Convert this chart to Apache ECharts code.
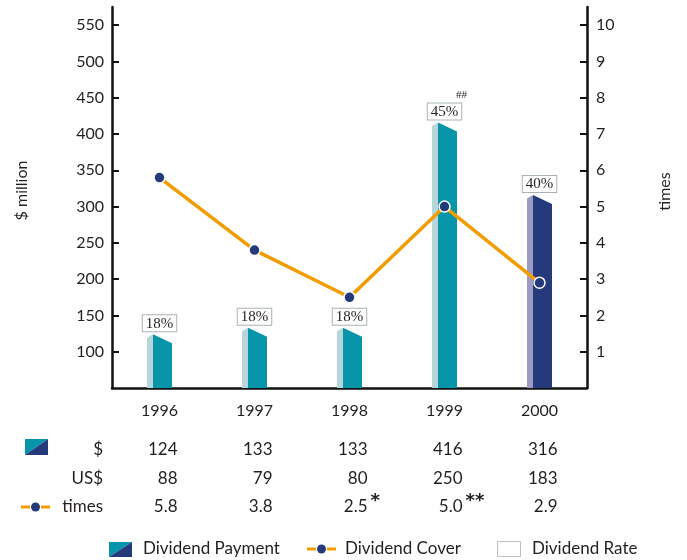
<!DOCTYPE html>
<html>
<head>
<meta charset="utf-8">
<script src="https://cdn.jsdelivr.net/npm/echarts@6/dist/echarts.min.js"></script>
<style>
  html, body { margin: 0; padding: 0; background: #fff; }
  #chart { width: 687px; height: 560px; }
</style>
</head>
<body>
<div id="chart"></div>
<script>
// chart data
var years = ['1996', '1997', '1998', '1999', '2000']
var payment = [124, 133, 133, 416, 316]      // $ million
var paymentUS = [88, 79, 80, 250, 183]       // US$ million
var cover = [5.8, 3.8, 2.5, 5.0, 2.9]        // times
var rates = ['18%', '18%', '18%', '45%', '40%']
var rateNotes = ['', '', '', '##', '']
var coverNotes = ['', '', '*', '**', '']
var leftTicks = [100, 150, 200, 250, 300, 350, 400, 450, 500, 550]
var rightTicks = [1, 2, 3, 4, 5, 6, 7, 8, 9, 10]

var TEAL = '#0795a9'
var TEAL_LIGHT = '#b7d6dc'
var NAVY = '#243a7a'
var NAVY_LIGHT = '#9d9ac4'
var ORANGE = '#f29c00'
var INK = '#231f20'
var FONT = 'Lato, "Open Sans", sans-serif'

var chart = echarts.init(document.getElementById('chart'))

function renderBar(params, api) {
  var i = params.dataIndex
  var top = api.coord([api.value(0), api.value(1)])
  var base = api.coord([api.value(0), 50])
  var c = top[0]
  var y = top[1]
  var b = base[1]
  // last year drawn in navy
  var dark = i === 4 ? NAVY : TEAL
  var light = i === 4 ? NAVY_LIGHT : TEAL_LIGHT
  var children = [
    {
      type: 'polygon',
      shape: { points: [[c - 12.5, b], [c - 12.5, y + 3.5], [c - 6.5, y], [c - 6.5, b]] },
      style: { fill: light }
    },
    {
      type: 'polygon',
      shape: { points: [[c - 6.5, b], [c - 6.5, y], [c + 12.5, y + 9], [c + 12.5, b]] },
      style: { fill: dark }
    },
    {
      type: 'text',
      x: c,
      y: y - 3,
      style: {
        text: rates[i],
        font: '15px "Liberation Serif", serif',
        fill: INK,
        align: 'center',
        verticalAlign: 'bottom',
        padding: [1, 3, 0, 3],
        borderColor: '#a9b3b6',
        borderWidth: 1,
        backgroundColor: '#fff'
      }
    }
  ]
  if (rateNotes[i]) {
    children.push({
      type: 'text',
      x: c + 17,
      y: y - 27,
      style: {
        text: rateNotes[i],
        font: '11px "Liberation Serif", serif',
        fill: INK,
        align: 'center',
        verticalAlign: 'middle'
      }
    })
  }
  return { type: 'group', children: children }
}

chart.setOption({
  animation: false,
  grid: {
    left: 112,
    right: 100,
    top: 7,
    bottom: 172,
    containLabel: false,
    outerBoundsMode: 'none'
  },
  xAxis: {
    type: 'category',
    data: years,
    axisLine: { lineStyle: { color: '#111', width: 2.5 } },
    axisTick: { inside: true, length: 9, lineStyle: { color: '#111', width: 2 } },
    axisLabel: { margin: 15, color: INK, fontFamily: FONT, fontSize: 16 }
  },
  yAxis: [
    {
      type: 'value',
      position: 'left',
      min: 50,
      max: 575,
      interval: 50,
      name: '$ million',
      nameLocation: 'middle',
      nameRotate: 90,
      nameGap: 82,
      nameTextStyle: { color: INK, fontFamily: FONT, fontSize: 16, padding: [0, 0, 0, 14] },
      axisLine: { show: true, lineStyle: { color: '#111', width: 2.5 } },
      axisTick: { show: true, inside: true, length: 7, customValues: leftTicks, lineStyle: { color: '#111', width: 2 } },
      axisLabel: { margin: 8, customValues: leftTicks, color: INK, fontFamily: FONT, fontSize: 16 },
      splitLine: { show: false }
    },
    {
      type: 'value',
      position: 'right',
      min: 0,
      max: 10.5,
      interval: 1,
      name: 'times',
      nameLocation: 'middle',
      nameRotate: 90,
      nameGap: 70,
      nameTextStyle: { color: INK, fontFamily: FONT, fontSize: 16, padding: [0, 0, 0, 12] },
      axisLine: { show: true, lineStyle: { color: '#111', width: 2.5 } },
      axisTick: { show: true, inside: true, length: 7, customValues: rightTicks, lineStyle: { color: '#111', width: 2 } },
      axisLabel: { margin: 9, customValues: rightTicks, color: INK, fontFamily: FONT, fontSize: 16 },
      splitLine: { show: false }
    }
  ],
  series: [
    {
      name: 'Dividend Payment',
      type: 'custom',
      renderItem: renderBar,
      encode: { x: 0, y: 1 },
      data: years.map(function (y, i) { return [y, payment[i]] })
    },
    {
      name: 'Dividend Cover',
      type: 'line',
      yAxisIndex: 1,
      data: cover,
      symbol: 'circle',
      symbolSize: 11,
      z: 5,
      lineStyle: { color: ORANGE, width: 3.5 },
      itemStyle: { color: NAVY, borderColor: '#fff', borderWidth: 1.5 }
    }
  ]
})

// table under the chart + legend
var graphics = []
var rowY = [450, 479, 507]
var rowNames = ['$', 'US$', 'times']
var rows = [payment, paymentUS, cover.map(function (v) { return v.toFixed(1) })]

function txt(x, y, s, align, font) {
  return {
    type: 'text',
    x: x,
    y: y,
    style: {
      text: s,
      font: font || ('17px ' + FONT),
      fill: INK,
      align: align || 'left',
      verticalAlign: 'middle'
    }
  }
}

function splitSquare(x, y, w, h) {
  return [
    { type: 'polygon', shape: { points: [[x, y], [x + w, y], [x, y + h]] }, style: { fill: TEAL } },
    { type: 'polygon', shape: { points: [[x + w, y], [x + w, y + h], [x, y + h]] }, style: { fill: NAVY } }
  ]
}

function coverIcon(x, y) {
  return [
    { type: 'line', shape: { x1: x, y1: y, x2: x + 9, y2: y }, style: { stroke: ORANGE, lineWidth: 3 } },
    { type: 'line', shape: { x1: x + 20, y1: y, x2: x + 29, y2: y }, style: { stroke: ORANGE, lineWidth: 3 } },
    { type: 'circle', shape: { cx: x + 14.5, cy: y, r: 4.5 }, style: { fill: NAVY } }
  ]
}

rowNames.forEach(function (name, r) {
  graphics.push(txt(103, rowY[r], name, 'right'))
  years.forEach(function (yr, i) {
    var x = chart.convertToPixel({ xAxisIndex: 0 }, yr) + 18
    graphics.push(txt(x, rowY[r], String(rows[r][i]), 'right'))
    if (r === 2 && coverNotes[i]) {
      graphics.push(txt(x + 3, rowY[r] - 6, coverNotes[i], 'left', 'bold 18px "DejaVu Sans", sans-serif'))
    }
  })
})
graphics = graphics.concat(splitSquare(25, 439, 23, 16))
graphics = graphics.concat(coverIcon(21, 507))

// legend
graphics = graphics.concat(splitSquare(109, 542, 23, 15))
graphics.push(txt(143, 549, 'Dividend Payment'))
graphics = graphics.concat(coverIcon(307, 549))
graphics.push(txt(345, 549, 'Dividend Cover'))
graphics.push({ type: 'rect', shape: { x: 497.5, y: 541.5, width: 23, height: 15 }, style: { fill: '#fff', stroke: '#b9bfc2', lineWidth: 1 } })
graphics.push(txt(532, 549, 'Dividend Rate'))

chart.setOption({ graphic: graphics })
</script>
</body>
</html>
